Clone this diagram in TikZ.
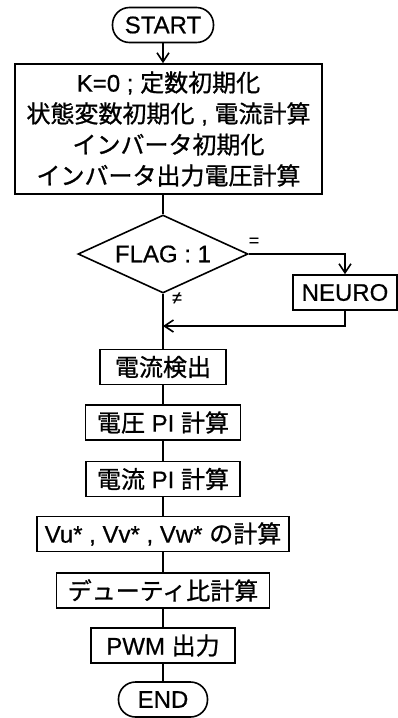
\documentclass[tikz,border=0pt]{standalone}
\usepackage{fontspec}
\setmainfont[FakeBold=0.6]{Liberation Sans}
\newfontfamily\jp[FakeBold=0.9]{Noto Sans CJK JP}
\usetikzlibrary{arrows.meta,shapes.geometric}

\begin{document}
\begin{tikzpicture}[x=1pt, y=-1pt, line width=1.6pt,
  every node/.style={font=\fontsize{24}{31}\selectfont, inner sep=0pt},
  term/.style={draw, rounded corners=17pt, minimum height=35pt},
  proc/.style={draw, minimum height=35pt},
  decide/.style={draw, diamond, aspect=2.2, minimum width=170pt, minimum height=78pt},
  flow/.style={-{Straight Barb[length=9pt,width=12pt]}},
  tag/.style={font=\fontsize{18}{18}\selectfont}]
\useasboundingbox (0,0) rectangle (398,718);
% terminals and steps
\node[term, minimum width=101pt] (start) at (163,25) {START};
\node[proc, minimum width=307pt, minimum height=130pt, align=center] (init) at (168.5,129)
  {K=0 ; {\jp 定数初期化}\\ {\jp 状態変数初期化} , {\jp 電流計算}\\
   {\jp インバータ初期化}\\ {\jp インバータ出力電圧計算}};
\node[decide] (flag) at (163,254) {FLAG : 1};
\node[proc, minimum width=104pt] (neuro) at (345,292.5) {NEURO};
\coordinate (merge) at (163,326);
\node[proc, minimum width=126pt] (detect) at (163,367) {\jp 電流検出};
\node[proc, minimum width=155pt] (vpi) at (163,422.5) {{\jp 電圧} PI {\jp 計算}};
\node[proc, minimum width=154pt] (ipi) at (163,479) {{\jp 電流} PI {\jp 計算}};
\node[proc, minimum width=252pt] (vref) at (163,534) {Vu* , Vv* , Vw* {\jp の計算}};
\node[proc, minimum width=213pt] (duty) at (163,590.5) {\jp デューティ比計算};
\node[proc, minimum width=144pt] (pwm) at (163,645.5) {PWM {\jp 出力}};
\node[term, minimum width=89pt] (stop) at (163,699.5) {END};
% branch labels
\node[tag] (eqtag) at (254,242) {=};
\node[tag] (netag) at (177,298) {≠};
% connectors
\draw[flow] (start) -- (start.south |- init.north);
\draw (init.south -| flag.north) -- (flag);
\draw[flow] (flag.east) -| (neuro.north);
\draw[flow] (neuro.south) |- (merge);
\draw (flag.south) -- (detect);
\foreach \a/\b in {detect/vpi, vpi/ipi, ipi/vref, vref/duty, duty/pwm, pwm/stop}
  \draw (\a) -- (\b);
\end{tikzpicture}
\end{document}
